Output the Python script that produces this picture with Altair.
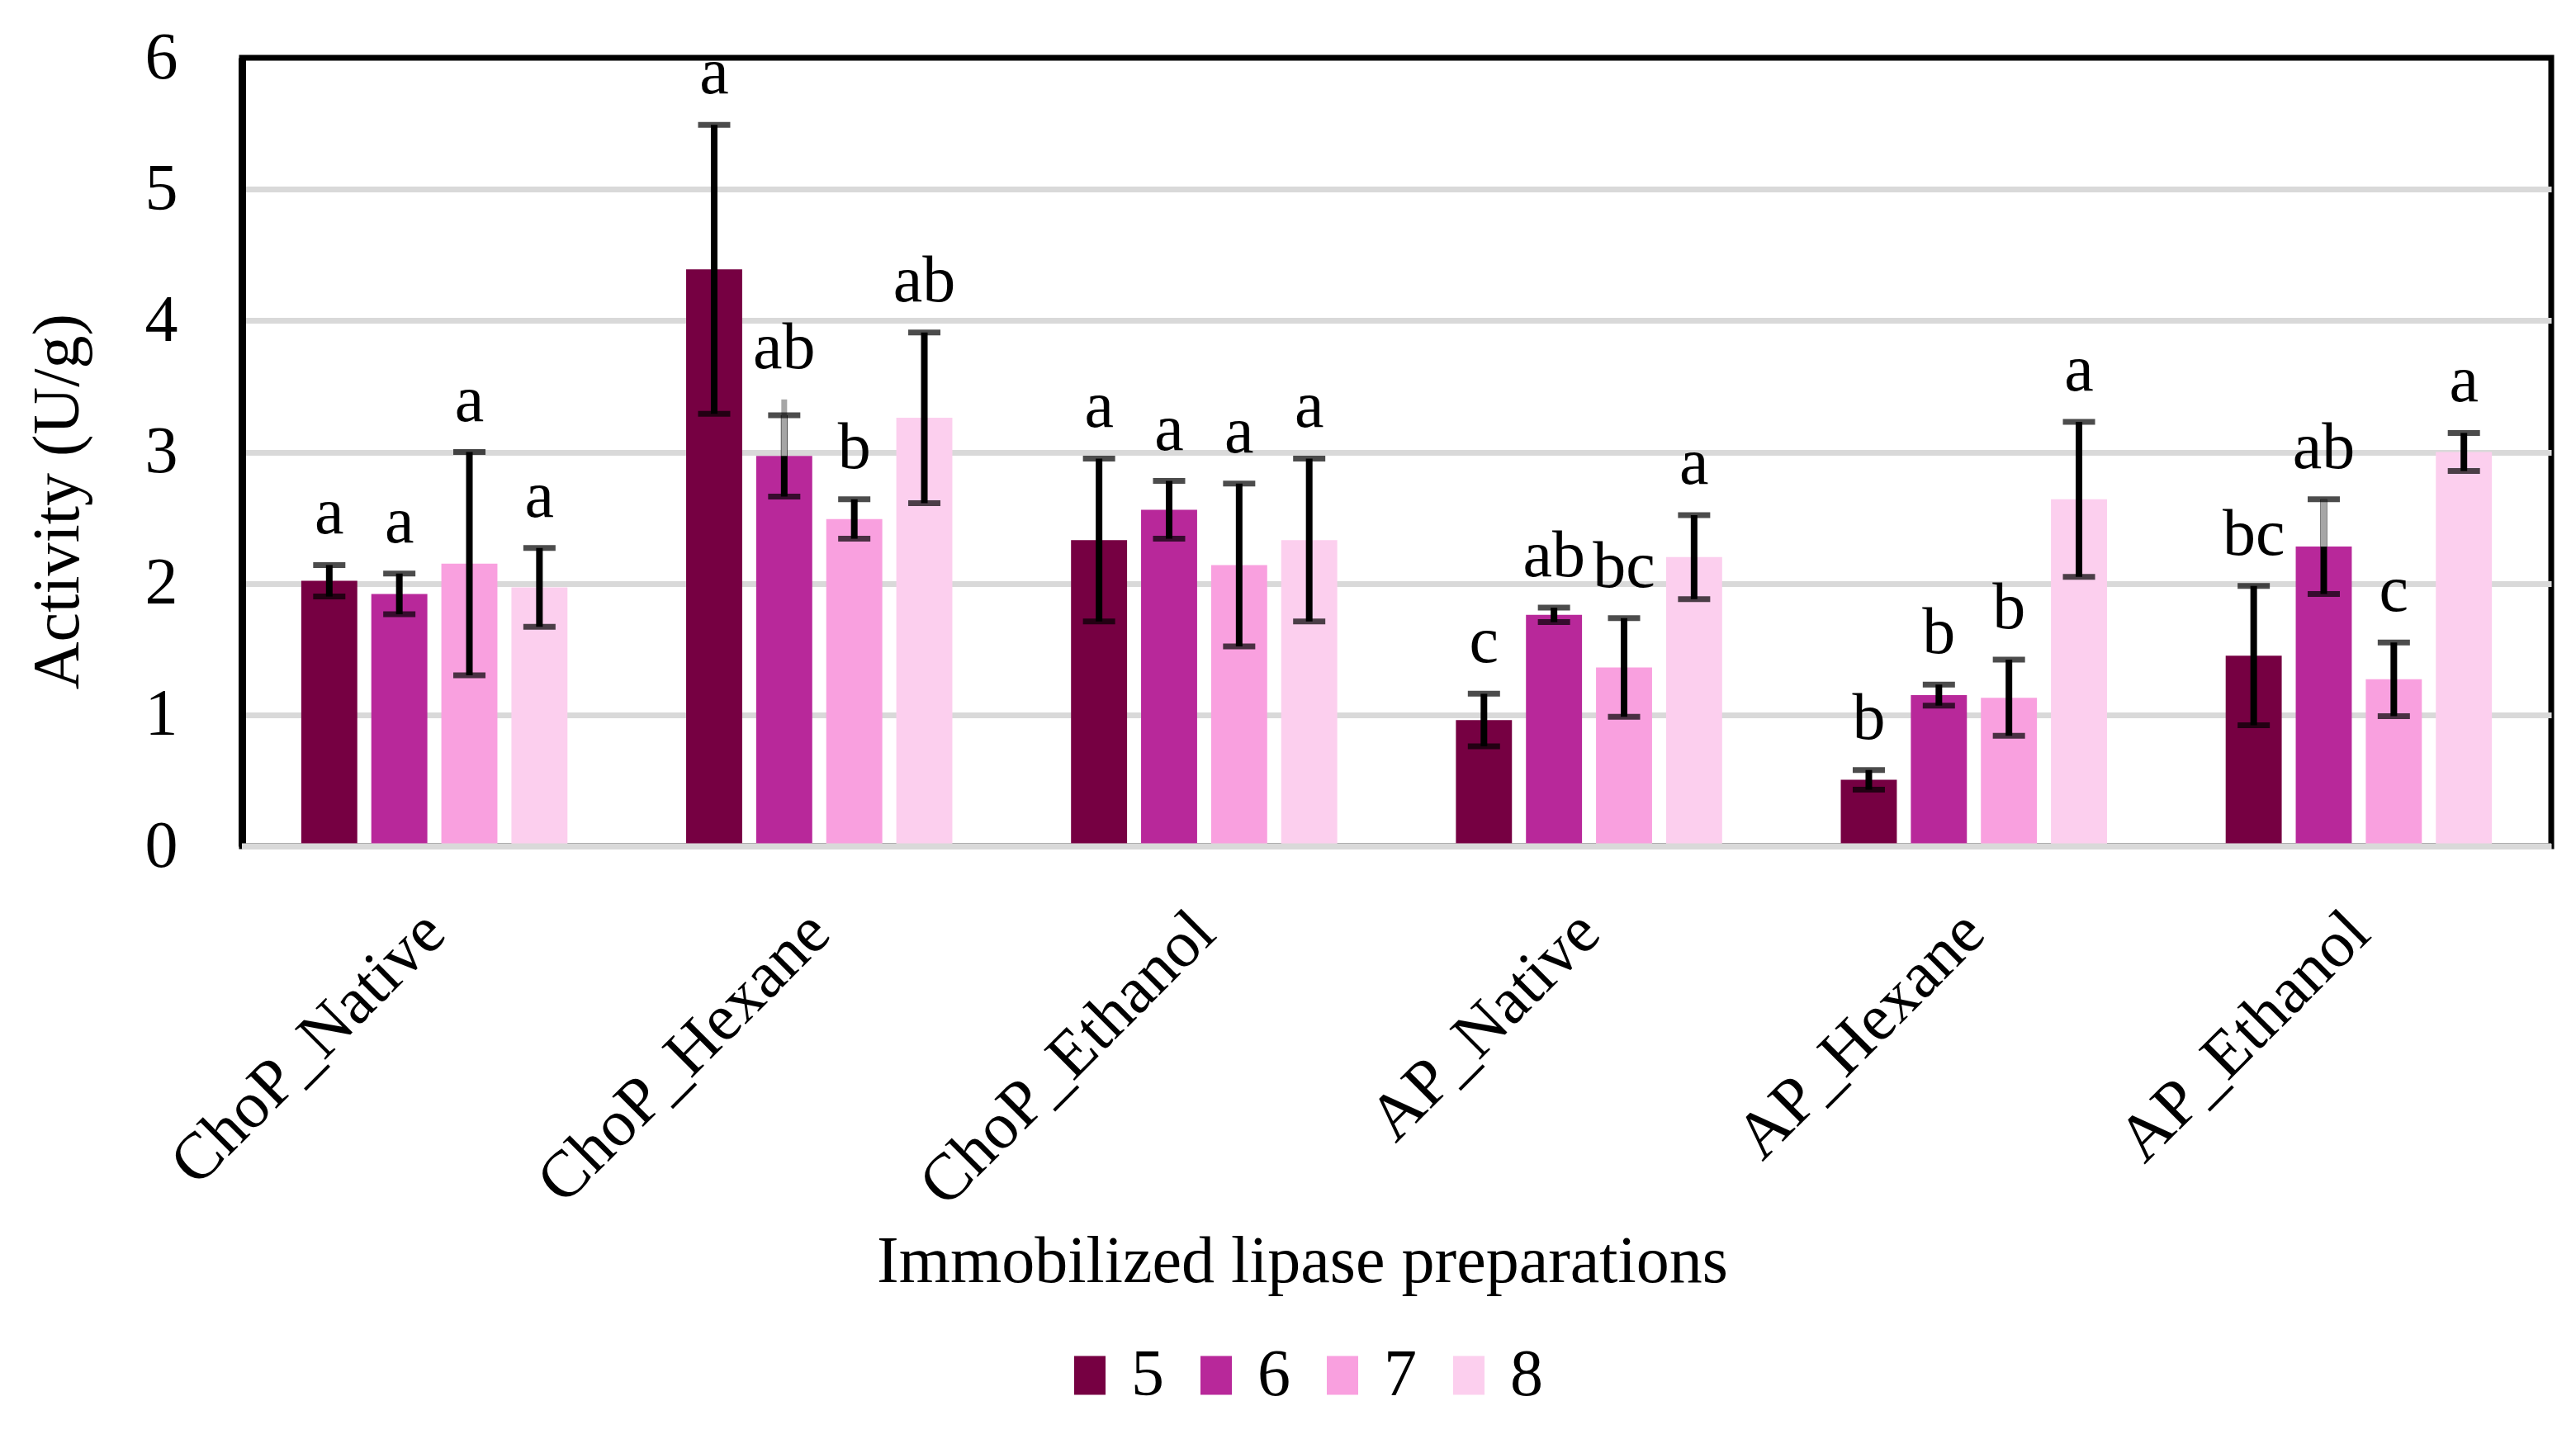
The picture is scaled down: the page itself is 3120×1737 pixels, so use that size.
import altair as alt
import pandas as pd

FONT = "Palatino Linotype, Book Antiqua, Palatino, Liberation Serif, serif"

groups = ["ChoP_Native", "ChoP_Hexane", "ChoP_Ethanol", "AP_Native", "AP_Hexane", "AP_Ethanol"]
series = ["5", "6", "7", "8"]
colors = ["#760042", "#B8289A", "#F9A0DF", "#FCCFEE"]

mean_5 = [2.02, 4.39, 2.33, 0.96, 0.505, 1.45]
mean_6 = [1.92, 2.97, 2.56, 1.76, 1.15, 2.28]
mean_7 = [2.15, 2.49, 2.14, 1.36, 1.13, 1.27]
mean_8 = [1.97, 3.26, 2.33, 2.20, 2.64, 3.00]

err_5 = [0.12, 1.10, 0.62, 0.20, 0.075, 0.53]
err_6 = [0.155, 0.31, 0.22, 0.055, 0.08, 0.36]
err_7 = [0.85, 0.15, 0.62, 0.375, 0.29, 0.28]
err_8 = [0.30, 0.65, 0.62, 0.32, 0.59, 0.145]

letters_5 = ["a", "a", "a", "c", "b", "bc"]
letters_6 = ["a", "ab", "a", "ab", "b", "ab"]
letters_7 = ["a", "b", "a", "bc", "b", "c"]
letters_8 = ["a", "ab", "a", "a", "a", "a"]

# grey error whisker drawn over series 6 in two groups
gray_top_6 = [None, 3.40, None, None, None, 2.64]

rows = []
for s, means, errs, lets in zip(series, [mean_5, mean_6, mean_7, mean_8],
                                [err_5, err_6, err_7, err_8],
                                [letters_5, letters_6, letters_7, letters_8]):
    for i, (g, m, e, l) in enumerate(zip(groups, means, errs, lets)):
        hi = m + e
        top = hi
        if s == "6" and gray_top_6[i] is not None:
            top = max(hi, gray_top_6[i])
        rows.append(dict(group=g, series=s, mean=m, lo=m - e, hi=hi, letter=l, label_y=top))
df = pd.DataFrame(rows)

gray_rows = [dict(group=g, series="6", mean=m, gtop=t)
             for g, m, t in zip(groups, mean_6, gray_top_6) if t is not None]
df_gray = pd.DataFrame(gray_rows)

yscale = alt.Scale(domain=[0, 6], nice=False, zero=True)
yaxis = alt.Axis(
    values=[0, 1, 2, 3, 4, 5, 6], title="Activity (U/g)", grid=True,
    gridColor="#D9D9D9", gridWidth=7,
    gridOpacity={"condition": {"test": "datum.value === 6", "value": 0}, "value": 1},
    domain=True, domainColor="black", domainWidth=9, ticks=False,
    labelFont=FONT, labelFontSize=80, labelColor="black", labelPadding=78,
    titleFont=FONT, titleFontSize=80, titleFontWeight="normal", titleColor="black",
    titleX=-223, titleY=537, titleAngle=270, titleBaseline="middle", titleAlign="center",
)
xaxis = alt.Axis(
    title="Immobilized lipase preparations", labelAngle=-45, labelAlign="right",
    labelBaseline="middle", labelPadding=92, labelFont=FONT, labelFontSize=80,
    labelColor="black", labelLimit=0, ticks=False, domain=False, grid=False,
    titleFont=FONT, titleFontSize=80, titleFontWeight="normal", titleColor="black",
    titleX=1284, titleY=527, titleBaseline="alphabetic", titleAlign="center",
)
xenc = alt.X("group:N", sort=groups, scale=alt.Scale(paddingInner=0, paddingOuter=0), axis=xaxis)
xoff = alt.XOffset("series:N", sort=series,
                   scale=alt.Scale(domain=series, paddingInner=0.2, paddingOuter=0.847))

base = alt.Chart(df)

bars = base.mark_bar().encode(
    x=xenc, xOffset=xoff,
    y=alt.Y("mean:Q", scale=yscale, axis=yaxis),
    color=alt.Color("series:N", sort=series,
                    scale=alt.Scale(domain=series, range=colors),
                    legend=alt.Legend(title=None, orient="none", legendX=987, legendY=1556,
                                      direction="horizontal",
                                      symbolType="M-0.809,-1H0.809V1H-0.809Z",
                                      symbolSize=2209, symbolStrokeWidth=0,
                                      labelFont=FONT, labelFontSize=80, labelColor="black",
                                      labelOffset=10, columnPadding=23, padding=0)),
)

zero = alt.Chart(pd.DataFrame({"v": [0]})).mark_rule(color="#D9D9D9", strokeWidth=7).encode(
    y=alt.Y("v:Q", scale=yscale, axis=yaxis)
)

err_rule = base.mark_rule(color="black", strokeWidth=8).encode(
    x=xenc, xOffset=xoff,
    y=alt.Y("lo:Q", scale=yscale, axis=yaxis), y2="hi:Q",
)

gray = alt.Chart(df_gray).mark_rule(color="#A6A6A6", strokeWidth=7).encode(
    x=xenc, xOffset=xoff,
    y=alt.Y("mean:Q", scale=yscale, axis=yaxis), y2="gtop:Q",
)

cap_hi = base.mark_tick(color="black", thickness=7, size=39).encode(
    x=xenc, xOffset=xoff, y=alt.Y("hi:Q", scale=yscale, axis=yaxis)
)
cap_lo = base.mark_tick(color="black", thickness=7, size=39).encode(
    x=xenc, xOffset=xoff, y=alt.Y("lo:Q", scale=yscale, axis=yaxis)
)

labels = base.mark_text(font=FONT, fontSize=80, color="black", baseline="alphabetic", dy=-38).encode(
    x=xenc, xOffset=xoff, y=alt.Y("label_y:Q", scale=yscale, axis=yaxis), text="letter:N"
)

chart = alt.layer(bars, zero, err_rule, gray, cap_hi, cap_lo, labels).properties(
    width=2797, height=955,
    padding={"left": 285, "top": 62, "right": 22, "bottom": 704},
    autosize=alt.AutoSizeParams(type="none"),
).configure_view(stroke="black", strokeWidth=7)

chart.save("out.html", embed_options={"renderer": "svg", "actions": False})
